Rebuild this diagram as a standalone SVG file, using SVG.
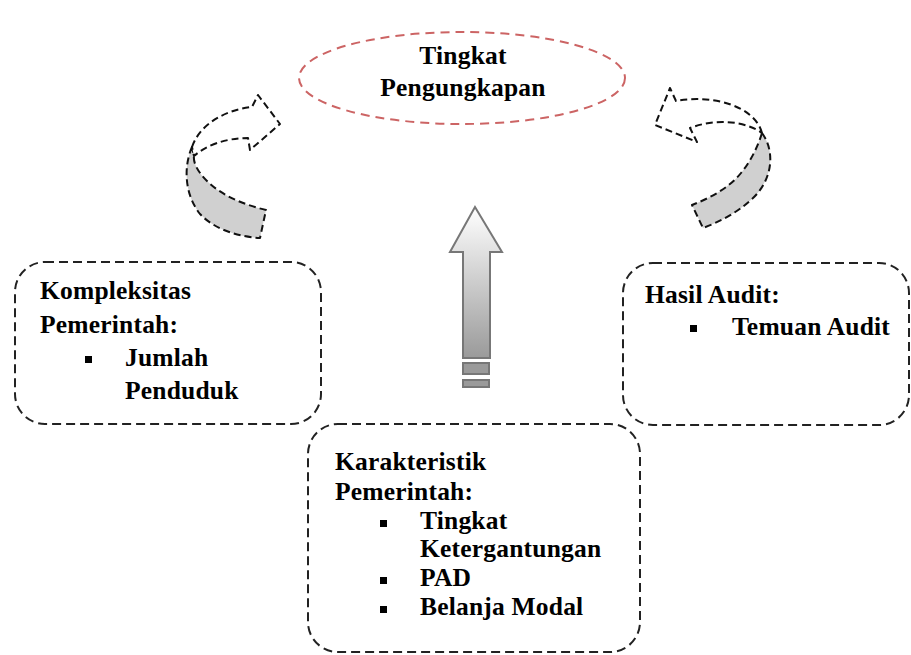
<svg xmlns="http://www.w3.org/2000/svg" width="911" height="655" viewBox="0 0 911 655">
<style>
  .t { font-family: "Liberation Serif", "Times New Roman", serif; font-weight: bold; font-size: 25.5px; letter-spacing: 0.2px; fill: #000; }
  .box { fill: #fff; stroke: #222; stroke-width: 2; stroke-dasharray: 9 5; }
  .dash { stroke: #111; stroke-width: 2; stroke-dasharray: 7 4; stroke-linejoin: round; }
  .bul { fill: #000; }
</style>
<defs>
  <linearGradient id="up" x1="0" y1="0" x2="0" y2="1">
    <stop offset="0" stop-color="#ffffff"/>
    <stop offset="1" stop-color="#9a9a9a"/>
  </linearGradient>
</defs>
<rect width="911" height="655" fill="#fff"/>

<g id="top">
  <ellipse cx="462" cy="78" rx="163" ry="46" fill="none" stroke="#cc6464" stroke-width="2" stroke-dasharray="9 6"/>
  <text class="t" x="463" y="64" text-anchor="middle">Tingkat</text>
  <text class="t" x="463" y="96" text-anchor="middle">Pengungkapan</text>
</g>

<g id="left">
  <rect class="box" x="15" y="262" width="306" height="162" rx="30"/>
  <text class="t" x="40" y="299">Kompleksitas</text>
  <text class="t" x="40" y="333">Pemerintah:</text>
  <rect class="bul" x="85" y="356" width="7" height="7"/>
  <text class="t" x="125" y="366">Jumlah</text>
  <text class="t" x="125" y="399">Penduduk</text>
</g>

<g id="right">
  <rect class="box" x="623" y="263" width="286" height="162" rx="30"/>
  <text class="t" x="645" y="303">Hasil Audit:</text>
  <rect class="bul" x="690" y="325" width="7" height="7"/>
  <text class="t" x="732" y="335">Temuan Audit</text>
</g>

<g id="bottom">
  <rect class="box" x="308" y="424" width="332" height="228" rx="30"/>
  <text class="t" x="335" y="470">Karakteristik</text>
  <text class="t" x="335" y="500">Pemerintah:</text>
  <rect class="bul" x="380" y="520" width="7" height="7"/>
  <text class="t" x="420" y="529">Tingkat</text>
  <text class="t" x="420" y="557">Ketergantungan</text>
  <rect class="bul" x="380" y="577" width="7" height="7"/>
  <text class="t" x="420" y="586">PAD</text>
  <rect class="bul" x="380" y="606" width="7" height="7"/>
  <text class="t" x="420" y="615">Belanja Modal</text>
</g>

<g id="connectors">
  <g id="center-arrow" stroke="#777" stroke-width="2" fill="url(#up)">
    <path d="M475,207 L502,252 L490,252 L490,358 L463,358 L463,252 L450,252 Z"/>
    <rect x="463" y="363" width="26" height="11" fill="#9a9a9a"/>
    <rect x="463" y="380" width="26" height="7" fill="#9a9a9a"/>
  </g>
  <g id="left-arrow">
    <path class="dash" fill="#d0d0d0" d="M192,147 C183,168 185,195 200,214 C215,230 240,237 260,238 L266,210 C245,205 222,196 207,181 C198,172 193,163 194,156 Z"/>
    <path class="dash" fill="#fff" d="M192,147 C200,124 225,110 252,107 L258,95 L280,124 L250,150 L248,138 C225,138 205,146 194,156 Z"/>
  </g>
  <g id="right-arrow">
    <path class="dash" fill="#d0d0d0" d="M762,133 C776,152 772,181 752,199 C737,213 719,222 703,228 L692,205 C710,198 729,188 741,173 C751,161 758,146 762,133 Z"/>
    <path class="dash" fill="#fff" d="M762,133 C755,106 712,94 676,101 L670,88 L655,125 L697,142 L690,128 C716,118 745,121 762,133 Z"/>
  </g>
</g>
</svg>
